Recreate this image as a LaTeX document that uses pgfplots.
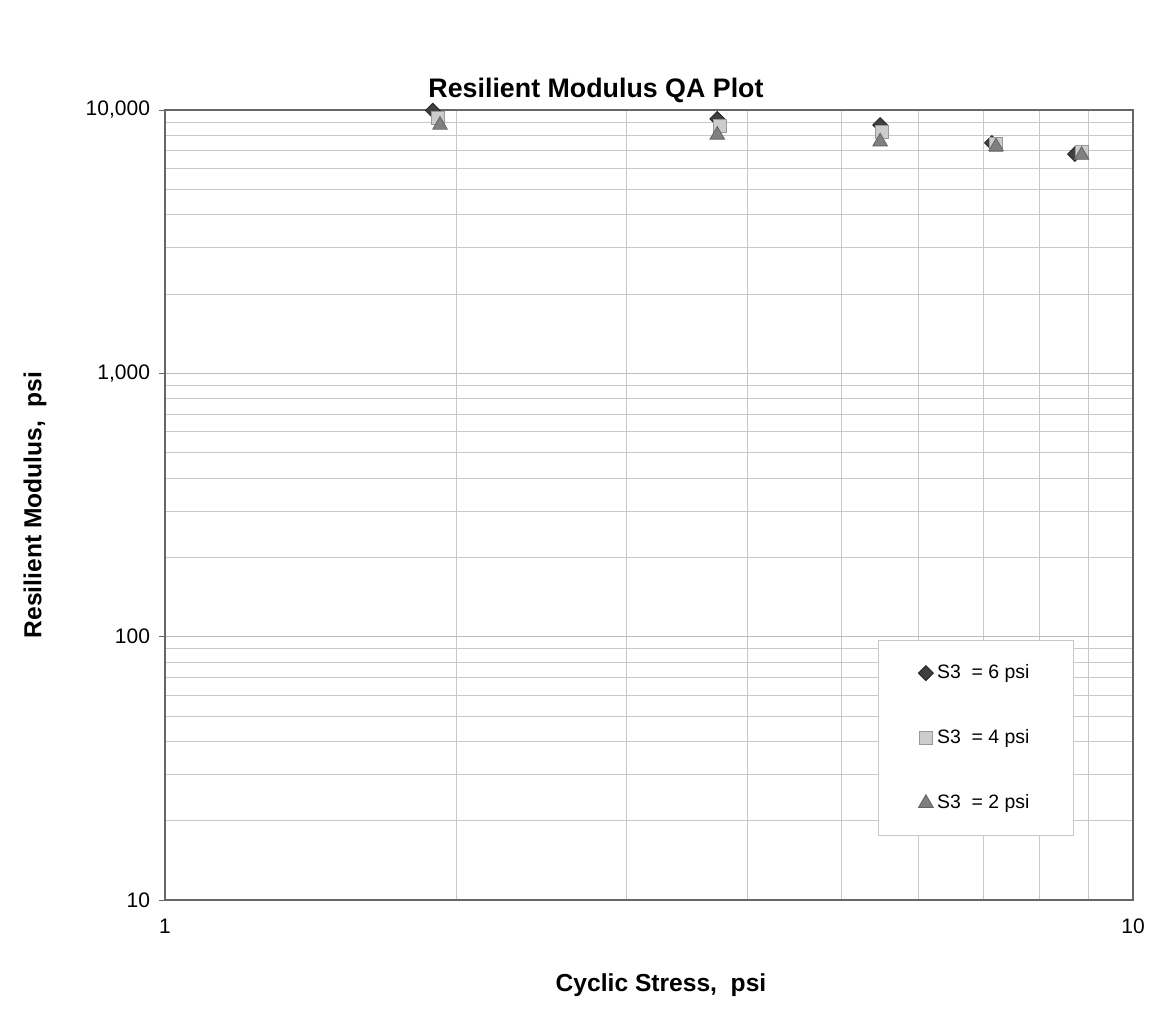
\documentclass[border=0pt]{standalone}
\usepackage{pgfplots}
\pgfplotsset{compat=1.18}
\usepackage{fontspec}
\setmainfont{Liberation Sans}
\definecolor{axisgray}{HTML}{666666}
\definecolor{gridgray}{HTML}{C8C8C8}
\begin{document}
\begin{tikzpicture}
\useasboundingbox (-82.5pt,-58.5pt) rectangle (495.5pt,450pt);
\begin{axis}[
  at={(0,0)}, anchor=south west,
  scale only axis, width=484pt, height=395pt,
  xmode=log, ymode=log,
  xmin=1, xmax=10, ymin=10, ymax=10000,
  xtick={1,10}, xticklabels={1,10},
  ytick={10,100,1000,10000}, yticklabels={10,100,{1,000},{10,000}},
  /pgf/number format/assume math mode=true,
  tick label style={font=\fontsize{10.5}{12}\selectfont, text=black},
  xticklabel style={yshift=-3pt},
  yticklabel style={xshift=-1pt},
  tick align=outside, major tick length=3pt, minor tick length=0pt,
  xtick style={draw=none},
  ytick style={draw=axisgray},
  ytick pos=left, xtick pos=bottom,
  grid=both,
  major grid style={draw=gridgray!120, line width=0.5pt},
  minor grid style={draw=gridgray, line width=0.4pt},
  axis line style={draw=axisgray, line width=1pt},
  clip=false,
  legend style={at={(0.7366,0.329)}, anchor=north west, draw=gridgray, fill=white,
    font=\fontsize{9.7}{11}\selectfont, row sep=20pt, inner xsep=20pt, inner ysep=10pt,
    line width=0.5pt},
  legend cell align=left,
]
\addplot[only marks, mark=square*, mark size=2.6pt, mark options={rotate=45}, draw=black!85, fill=black!75]
  coordinates {(1.891,9950) (3.72,9250) (5.48,8770) (7.15,7500) (8.71,6800)};
\addlegendentry{S3\ \ = 6 psi}
\addplot[only marks, mark=square*, mark size=3.3pt, draw=black!40, fill=black!20]
  coordinates {(1.913,9300) (3.745,8700) (5.50,8270) (7.22,7400) (8.85,6950)};
\addlegendentry{S3\ \ = 4 psi}
\addplot[only marks, mark=triangle*, mark size=4.2pt, draw=black!60, fill=black!50]
  coordinates {(1.924,8770) (3.72,8040) (5.48,7580) (7.22,7260) (8.85,6740)};
\addlegendentry{S3\ \ = 2 psi}
\end{axis}
\node[font=\bfseries\fontsize{13.4}{16}\selectfont] at (215.5pt,405pt) {Resilient Modulus QA Plot};
\node[font=\bfseries\fontsize{12.3}{14}\selectfont] at (248pt,-42.5pt) {Cyclic Stress,\ \ psi};
\node[font=\bfseries\fontsize{12.3}{14}\selectfont, rotate=90] at (-65pt,197.5pt) {Resilient Modulus,\ \ psi};
\end{tikzpicture}
\end{document}
